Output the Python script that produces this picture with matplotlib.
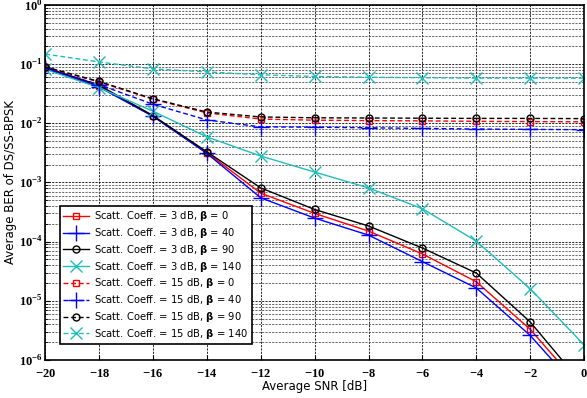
import numpy as np
import matplotlib
matplotlib.use("Agg")
import matplotlib.pyplot as plt
from matplotlib.ticker import LogLocator, FixedLocator, FuncFormatter

plt.rcParams["mathtext.fontset"] = "custom"
plt.rcParams["mathtext.rm"] = "Liberation Serif:bold"
plt.rcParams["mathtext.bf"] = "DejaVu Sans:bold"

# Data
snr = [-20, -18, -16, -14, -12, -10, -8, -6, -4, -2, 0]

# Scatt. Coeff. = 3 dB
ber_3_b0 = [0.087, 0.043, 0.0133, 0.0032, 0.00066, 0.0003, 0.000151, 6.2e-5, 2.1e-5, 3.3e-6, 3.0e-7]
ber_3_b40 = [0.085, 0.041, 0.0131, 0.0031, 0.00055, 0.00025, 0.000129, 4.6e-5, 1.65e-5, 2.6e-6, 2.5e-7]
ber_3_b90 = [0.088, 0.044, 0.0135, 0.0033, 0.00081, 0.00035, 0.000184, 7.8e-5, 2.95e-5, 4.4e-6, 3.6e-7]
ber_3_b140 = [0.082, 0.040, 0.016, 0.0059, 0.0028, 0.0015, 0.00081, 0.00036, 0.000102, 1.6e-5, 1.8e-6]

# Scatt. Coeff. = 15 dB
ber_15_b0 = [0.088, 0.050, 0.0255, 0.015, 0.0118, 0.0113, 0.0111, 0.011, 0.0108, 0.0107, 0.0106]
ber_15_b40 = [0.085, 0.045, 0.021, 0.0114, 0.0087, 0.0086, 0.0084, 0.0082, 0.0080, 0.0079, 0.0078]
ber_15_b90 = [0.09, 0.051, 0.026, 0.0155, 0.0128, 0.0124, 0.0123, 0.0122, 0.0121, 0.0121, 0.012]
ber_15_b140 = [0.148, 0.109, 0.083, 0.074, 0.066, 0.062, 0.060, 0.059, 0.058, 0.058, 0.058]

fig = plt.figure(figsize=(5.87, 3.98), dpi=100)
ax = fig.add_axes([0.077, 0.0955, 0.918, 0.892])

dash = (0, (3.5, 2))
series = [
    (ber_3_b0, "r", "-", "s", 5, r"Scatt. Coeff. = 3 dB, $\mathbf{\beta}$ = 0"),
    (ber_3_b40, "b", "-", "+", 11, r"Scatt. Coeff. = 3 dB, $\mathbf{\beta}$ = 40"),
    (ber_3_b90, "k", "-", "o", 5, r"Scatt. Coeff. = 3 dB, $\mathbf{\beta}$ = 90"),
    (ber_3_b140, "c", "-", "x", 8, r"Scatt. Coeff. = 3 dB, $\mathbf{\beta}$ = 140"),
    (ber_15_b0, "r", dash, "s", 5, r"Scatt. Coeff. = 15 dB, $\mathbf{\beta}$ = 0"),
    (ber_15_b40, "b", dash, "+", 11, r"Scatt. Coeff. = 15 dB, $\mathbf{\beta}$ = 40"),
    (ber_15_b90, "k", dash, "o", 5, r"Scatt. Coeff. = 15 dB, $\mathbf{\beta}$ = 90"),
    (ber_15_b140, "c", dash, "x", 8, r"Scatt. Coeff. = 15 dB, $\mathbf{\beta}$ = 140"),
]
colors = {"r": "#ff0000", "b": "#0000ff", "k": "#000000", "c": "#20bdbd"}
for vals, c, ls, mk, ms, lab in series:
    ax.semilogy(snr, vals, color=colors[c], linestyle=ls, marker=mk, markersize=ms,
                markerfacecolor="none", markeredgecolor=colors[c], linewidth=1.0,
                markeredgewidth=1.0, label=lab)

ax.set_xlim(-20, 0)
ax.set_ylim(1e-6, 1)
ax.xaxis.set_major_locator(FixedLocator(snr))
ax.xaxis.set_major_formatter(FuncFormatter(lambda v, p: r"$%d$" % round(v)))
ax.yaxis.set_major_locator(LogLocator(base=10, numticks=10))
ax.yaxis.set_minor_locator(LogLocator(base=10, subs=np.arange(2, 10), numticks=20))
ax.yaxis.set_minor_formatter(FuncFormatter(lambda v, p: ""))
ax.yaxis.set_major_formatter(FuncFormatter(lambda v, p: r"$10^{%d}$" % round(np.log10(v))))

ax.grid(True, which="major", color="black", linestyle=(0, (2.5, 1.5)), linewidth=0.6)
ax.grid(True, which="minor", axis="y", color="0.3", linestyle=(0, (2.5, 1.5)), linewidth=0.6)

ax.tick_params(axis="both", which="both", direction="in", labelsize=9)
ax.tick_params(axis="y", which="minor", length=2)
ax.tick_params(axis="x", pad=5)
ax.tick_params(axis="y", pad=2)
for sp in ax.spines.values():
    sp.set_linewidth(1.2)

ax.set_xlabel("Average SNR [dB]", fontsize=8.5, fontfamily="DejaVu Sans", labelpad=0)
ax.set_ylabel("Average BER of DS/SS-BPSK", fontsize=8.5, fontfamily="DejaVu Sans", labelpad=1)

leg = ax.legend(loc="lower left", bbox_to_anchor=(0.018, 0.03),
                handlelength=2.6, borderpad=0.35, labelspacing=0.28, handletextpad=0.5,
                fancybox=False, framealpha=1, edgecolor="black",
                prop={"family": "DejaVu Sans", "size": 7.2})
leg.get_frame().set_linewidth(1.2)

fig.savefig("out.png", dpi=100)
